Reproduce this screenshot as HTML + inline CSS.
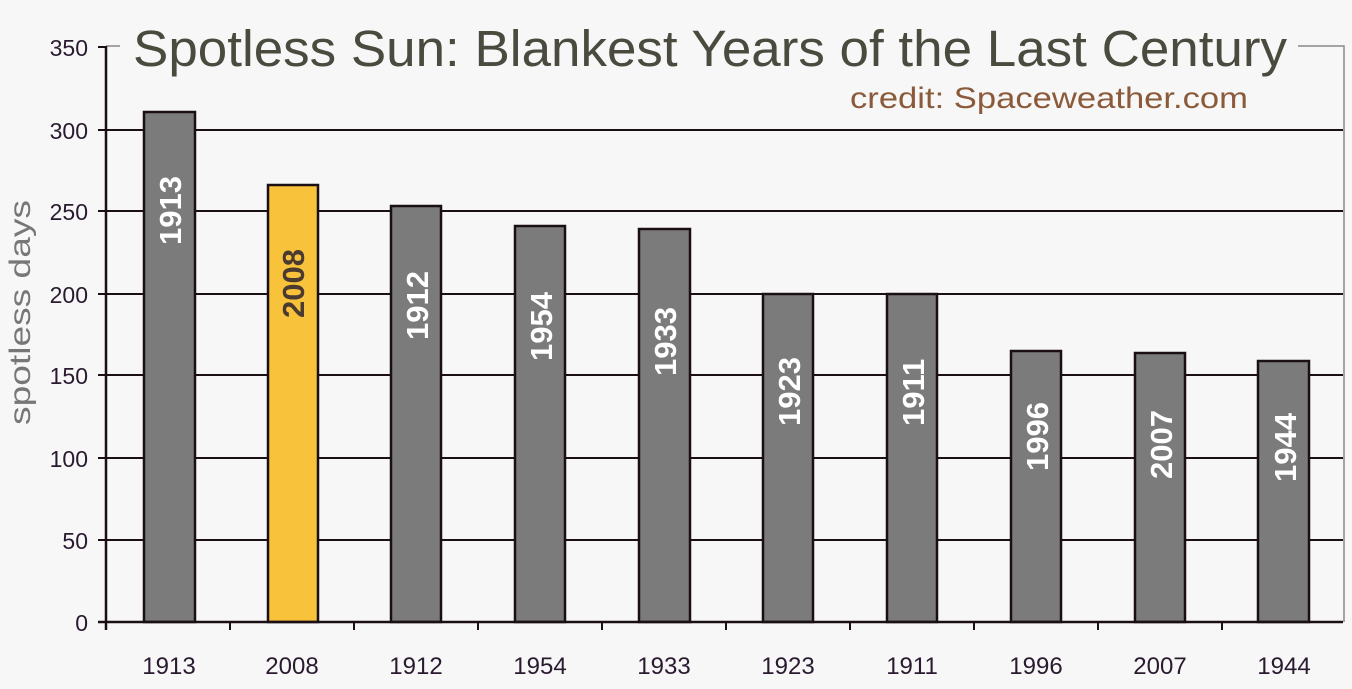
<!DOCTYPE html>
<html><head><meta charset="utf-8"><style>
html,body{margin:0;padding:0;background:#f7f7f7;}
svg{display:block;font-family:"Liberation Sans",sans-serif;}
</style></head><body>
<svg width="1352" height="689" viewBox="0 0 1352 689">
<rect width="1352" height="689" fill="#f7f7f7"/>
<polyline points="106,46 120,46" stroke="#888" stroke-width="1.5" fill="none"/>
<polyline points="1298,46 1344,46 1344,622" stroke="#888" stroke-width="1.5" fill="none"/>
<g stroke="#1a0f14" stroke-width="2">
<line x1="98" y1="130" x2="1343" y2="130"/>
<line x1="98" y1="211" x2="1343" y2="211"/>
<line x1="98" y1="294" x2="1343" y2="294"/>
<line x1="98" y1="375" x2="1343" y2="375"/>
<line x1="98" y1="458" x2="1343" y2="458"/>
<line x1="98" y1="540" x2="1343" y2="540"/>
<line x1="98" y1="47" x2="106" y2="47"/>
</g>
<g stroke="#1a0f14" stroke-width="2.5">
<rect x="144" y="112" width="51" height="510" fill="#7b7b7b"/>
<rect x="268" y="185" width="50" height="437" fill="#f8c23a"/>
<rect x="391" y="206" width="50" height="416" fill="#7b7b7b"/>
<rect x="515" y="226" width="50" height="396" fill="#7b7b7b"/>
<rect x="639" y="229" width="51" height="393" fill="#7b7b7b"/>
<rect x="763" y="294" width="50" height="328" fill="#7b7b7b"/>
<rect x="887" y="294" width="50" height="328" fill="#7b7b7b"/>
<rect x="1011" y="351" width="50" height="271" fill="#7b7b7b"/>
<rect x="1135" y="353" width="50" height="269" fill="#7b7b7b"/>
<rect x="1258" y="361" width="51" height="261" fill="#7b7b7b"/>
</g>
<g stroke="#1a0f14" stroke-width="2.5">
<line x1="106" y1="46" x2="106" y2="630"/>
<line x1="98" y1="622" x2="1343" y2="622"/>
</g>
<g stroke="#1a0f14" stroke-width="2">
<line x1="230" y1="622" x2="230" y2="630"/><line x1="354" y1="622" x2="354" y2="630"/>
<line x1="478" y1="622" x2="478" y2="630"/><line x1="602" y1="622" x2="602" y2="630"/>
<line x1="726" y1="622" x2="726" y2="630"/><line x1="850" y1="622" x2="850" y2="630"/>
<line x1="974" y1="622" x2="974" y2="630"/><line x1="1098" y1="622" x2="1098" y2="630"/>
<line x1="1222" y1="622" x2="1222" y2="630"/>
</g>
<g font-size="23" fill="#2a1a30" text-anchor="end">
<text x="88" y="56">350</text><text x="88" y="139">300</text><text x="88" y="220">250</text>
<text x="88" y="303">200</text><text x="88" y="384">150</text><text x="88" y="467">100</text>
<text x="88" y="549">50</text><text x="88" y="631">0</text>
</g>
<g font-size="24" fill="#2a1a30" text-anchor="middle">
<text x="169" y="674">1913</text><text x="292" y="674">2008</text><text x="416" y="674">1912</text>
<text x="540" y="674">1954</text><text x="664" y="674">1933</text><text x="788" y="674">1923</text>
<text x="912" y="674">1911</text><text x="1036" y="674">1996</text><text x="1160" y="674">2007</text>
<text x="1284" y="674">1944</text>
</g>
<g font-size="31" font-weight="bold" fill="#fff">
<text transform="translate(181,245) rotate(-90)">1913</text>
<text transform="translate(304,318) rotate(-90)" fill="#4a3a30">2008</text>
<text transform="translate(428,340) rotate(-90)">1912</text>
<text transform="translate(552,361) rotate(-90)">1954</text>
<text transform="translate(676,376) rotate(-90)">1933</text>
<text transform="translate(800,426) rotate(-90)">1923</text>
<text transform="translate(924,426) rotate(-90)">1911</text>
<text transform="translate(1048,471) rotate(-90)">1996</text>
<text transform="translate(1172,479) rotate(-90)">2007</text>
<text transform="translate(1296,482) rotate(-90)">1944</text>
</g>
<text x="133" y="66" font-size="51" fill="#4a4a3e" textLength="1154" lengthAdjust="spacingAndGlyphs">Spotless Sun: Blankest Years of the Last Century</text>
<text x="850" y="108" font-size="30" fill="#8a5a3a" textLength="398" lengthAdjust="spacingAndGlyphs">credit: Spaceweather.com</text>
<text transform="translate(30,425) rotate(-90)" font-size="30" fill="#777" textLength="225" lengthAdjust="spacingAndGlyphs">spotless days</text>
</svg>
</body></html>
